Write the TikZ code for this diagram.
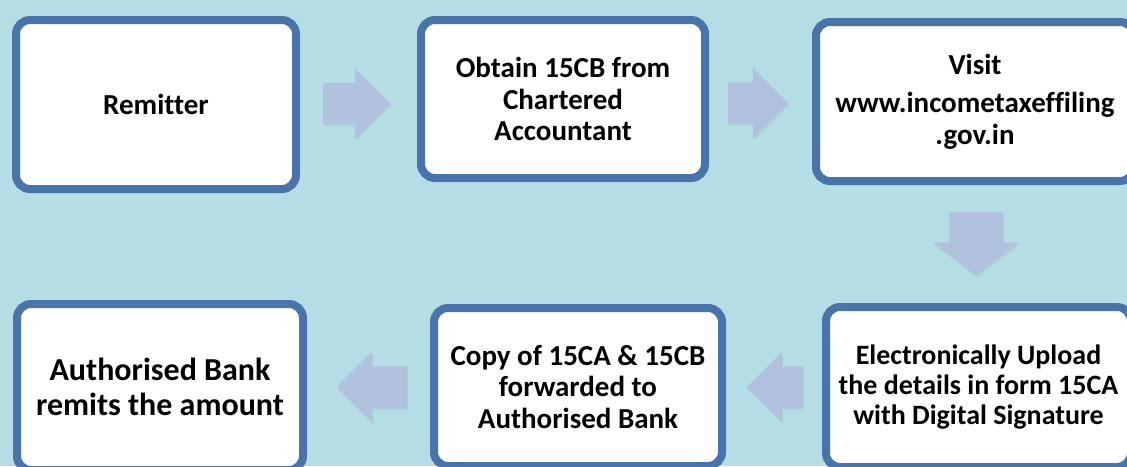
\documentclass[tikz,border=0pt]{standalone}
\usepackage{fontspec}
\setmainfont{Carlito}[Ligatures=NoCommon]
\usetikzlibrary{shapes.arrows,shadows,calc}
\definecolor{bgblue}{RGB}{181,221,230}
\definecolor{edgeblue}{RGB}{72,116,170}
\definecolor{arrowblue}{RGB}{176,194,221}
\tikzset{
  stepbox/.style={draw=edgeblue, fill=white, line width=8pt, rounded corners=14pt, align=center,
    drop shadow={shadow xshift=2pt, shadow yshift=-3pt, opacity=0.25}},
  fmid/.style={font=\bfseries\fontsize{29}{31.5}\selectfont},
  fbig/.style={font=\bfseries\fontsize{32}{35}\selectfont},
  fsmall/.style={font=\bfseries\fontsize{28}{30}\selectfont},
  flowarrow/.style={single arrow, anchor=tail, fill=arrowblue, inner xsep=0pt, inner ysep=20.5pt, minimum height=67pt,
    single arrow head extend=14.5pt, drop shadow={shadow xshift=1pt, shadow yshift=-2pt, opacity=0.15}},
}

\begin{document}
\begin{tikzpicture}[x=1pt, y=1pt]
  \fill[bgblue] (0,0) rectangle (1127,-466);
  \useasboundingbox (0,0) rectangle (1127,-466);

  \node[stepbox, fmid, minimum width=280pt, minimum height=169pt] (remitter) at (156,-104.5) {Remitter};
  \node[stepbox, fmid, minimum width=284pt, minimum height=158pt] (ca) at (563,-99) {Obtain 15CB from\\Chartered\\Accountant};
  \node[stepbox, fmid, minimum width=318pt, minimum height=159pt] (portal) at (975,-101.5) {Visit\\[7pt]www.incometaxeffiling\\.gov.in};
  \node[stepbox, fsmall, minimum width=305pt, minimum height=160pt] (upload) at (978.5,-387) {Electronically Upload\\the details in form 15CA\\with Digital Signature};
  \node[stepbox, fmid, minimum width=288pt, minimum height=158pt] (copy) at (578,-387) {Copy of 15CA \& 15CB\\forwarded to\\Authorised Bank};
  \node[stepbox, fbig, minimum width=286pt, minimum height=166pt] (bank) at (160,-387) {Authorised Bank\\remits the amount};

  \node[flowarrow] (a1) at ($(remitter.east)+(23,1)$) {};
  \node[flowarrow, minimum height=60pt] (a2) at ($(ca.east)+(19,-4)$) {};
  \node[flowarrow, rotate=-90, inner ysep=26.5pt, minimum height=63pt,
    single arrow head extend=16pt, single arrow tip angle=105] (a3) at ($(portal.south)+(1,-27)$) {};
  \node[flowarrow, rotate=180, minimum height=56pt] (a4) at ($(upload.west)+(-19,0)$) {};
  \node[flowarrow, rotate=180, minimum height=70pt] (a5) at ($(copy.west)+(-23,0)$) {};
\end{tikzpicture}
\end{document}
